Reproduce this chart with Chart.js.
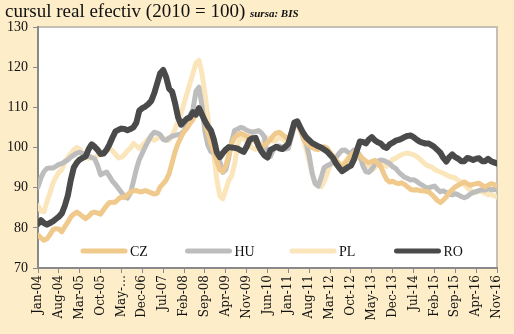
<!DOCTYPE html>
<html>
<head>
<meta charset="utf-8">
<script src="https://cdn.jsdelivr.net/npm/chart.js@4"></script>
<style>
  body { margin: 0; background: #fdedc8; }
  #wrap { position: relative; width: 514px; height: 334px; }
  #title { position: absolute; left: 5px; top: 0px; font: 19px 'Liberation Serif', serif; color: #111; white-space: nowrap; }
  #title span { font-size: 11px; font-style: italic; font-weight: bold; }
</style>
</head>
<body>
<div id="wrap">
  <div id="title">cursul real efectiv (2010 = 100) <span>sursa: BIS</span></div>
  <canvas id="chart" width="514" height="334"></canvas>
</div>
<script>
// etichete axa X (la fiecare 7 luni, ian-2004 .. nov-2016)
var tickLabels = ['Jan-04', 'Aug-04', 'Mar-05', 'Oct-05', 'May-…', 'Dec-06', 'Jul-07', 'Feb-08', 'Sep-08', 'Apr-09',
  'Nov-09', 'Jun-10', 'Jan-11', 'Aug-11', 'Mar-12', 'Oct-12', 'May-13', 'Dec-13', 'Jul-14', 'Feb-15',
  'Sep-15', 'Apr-16', 'Nov-16'];
var seriesNames = ['CZ', 'HU', 'PL', 'RO'];

// valori lunare, ian-2004 .. nov-2016
var cz = [78.2,77.5,76.9,77.3,78.3,79.5,79.8,79.7,79,80.3,
  81.4,82.7,83.4,83.9,83.4,82.8,82.3,82.9,83.7,83.9,
  83.7,83.4,84.5,85.5,86.3,86.4,86.4,87.2,87.7,87.5,
  88.2,88.9,89.2,89.3,89,89,89.3,89,88.7,88.4,
  88.6,90.2,91,91.9,93.5,96.2,99,101,102.6,104,
  104.8,106,107,108.5,109.5,108.5,106.5,103.5,101,99,
  96.5,94.5,94,95.5,98,101,102.5,103.2,103.5,103.2,
  102.8,102.6,102,101.4,100.8,100.2,100.5,101.2,102,103,
  103.6,103.8,103.2,102.6,102,103.5,105.5,105.8,104.5,102.6,
  101.2,100.5,100,99.6,99.5,99.8,100.2,99.8,98.8,97.8,
  96.8,95.8,95.2,96,97,98,98.8,98.4,98,97.2,
  96.6,96.2,96.5,96.8,96,95.2,93.5,92,91.4,91.6,
  91.2,91,91.2,90.8,90.2,89.6,89.4,89.5,89.3,89.2,
  89.1,89,88.4,87.6,86.8,86.3,86.9,87.7,88.8,89.5,
  90.2,90.6,91,91.4,91,90.6,90.8,91,91.1,90.6,
  90.2,90.6,91,90.8,90.4];

var hu = [90.2,92.5,94,94.8,94.9,94.9,95.3,95.8,96,96.5,
  96.9,97.6,98.1,98.6,98.8,98.5,98.2,97.9,97.5,97.2,
  95.5,93.2,93.6,93.9,92.8,91.6,90.8,89.8,88.8,87.8,
  87.4,88.6,91.5,94.6,97,98.6,100.2,101.6,103,103.8,
  103.6,103.2,102,101.8,102.4,102.8,103,103.2,103.4,104.2,
  106,108,109.5,114,115,110.5,104,100.5,99,98.6,
  98,96.5,93.8,94.5,97.5,101.5,104.3,104.6,105,104.8,
  104.3,104,103.8,104,104.2,103.6,102.6,97.5,97.8,99.5,
  100.2,100.4,100,99.6,99.8,102.5,105.5,106,104.6,102.5,
  101,98,93.5,91,90.4,92.5,95,95.5,95.8,96.5,
  97.5,98.5,99.3,99.4,98.8,98.6,99.4,99.2,98,95.5,
  94,93.8,94.6,95.8,96.6,96.9,96.8,96.4,96,95.2,
  94.8,93.9,93.2,92.6,92.3,91.9,92,91.6,91,90.6,
  90.1,89.9,90.2,90.4,89.6,89,89.2,88.8,88.4,88.2,
  88.5,88.2,87.8,87.5,87.8,88.4,88.8,89,89.3,89.5,
  89.4,89.7,89.5,89.6,89.4];

var pl = [85.5,84.2,84,86.5,88.6,91.1,92.6,93.8,94.5,96.2,
  97.6,98.5,99.4,100,99.6,98.4,97.8,97.3,97.4,97.6,
  98,98.3,98.6,99.4,99.8,99.2,98.3,97.4,97.6,98.2,
  99.2,99.8,101,100.4,99.8,100.6,101.2,102.2,102.2,101.8,
  102.3,102.6,102.4,102,101.8,103,104.6,106.5,108.5,111,
  113.5,116,118.5,121,121.7,118.5,113.5,107.5,102,98,
  92,88,87.2,89.5,91.8,93,96,100.8,102.4,102.2,
  101.6,100.6,99.8,99.5,100,101,102,102.4,102,101.6,
  101.8,102.5,102.2,101.5,101.8,103.5,106,106.2,104.5,102,
  99.5,96.5,93.5,91,90.4,90.2,91.5,93.5,95.5,96.6,
  96.8,96.2,95.8,96.4,97.4,97.9,98.2,97.8,97.2,96.8,
  96,95.2,94.4,95,96,96.2,95.6,95.3,96.2,97,
  97.4,97.8,98.2,98.5,98.6,98.4,98.2,97.8,97.2,96.5,
  95.8,95.4,95.2,94.6,94.2,93.9,93.6,93.2,92.8,92.6,
  92.4,91.8,91.4,90.8,90,89.4,88.8,88.9,89.2,89,
  88.6,88.2,88.4,88,87.7];

var ro = [81,81.9,81.2,80.8,81.2,81.6,82.2,82.8,83.6,85.5,
  88,91.9,95,96.2,97,97.4,97.8,99.6,100.8,100.2,
  99.4,98.4,98.5,99.4,100.8,102.5,104,104.4,104.7,104.6,
  104.3,104.6,105,106.2,109.2,109.8,110.2,110.8,111.6,113.5,
  116,118.5,119.3,117.5,114.6,113.9,111,107.5,105.7,106.5,
  107.2,107.5,108.8,108.2,109.8,108.2,106.6,105.3,104.3,102,
  98.8,97.6,98.6,99.5,100.1,100,99.9,99.7,99.3,98.9,
  100.2,101.9,102.3,102.4,100.4,99,98,97.5,99.4,99.8,
  100.2,99.8,99.6,100.2,101,103.5,106.2,106.5,105,103.6,
  102.5,101.8,101.1,100.7,100.3,100,99.5,99,98.2,97.4,
  96,95,94.1,94.6,95.1,95.5,97,99.3,101.5,101.4,
  101,102,102.6,101.8,101.3,101,100.2,99.9,100.8,101.2,
  101.7,101.9,102.2,102.6,102.9,103,102.6,102,101.5,101.2,
  101,101,100.6,100.1,99.4,98.7,97.4,96.5,97.6,98.3,
  97.6,97.2,96.6,96.6,97.4,97.2,96.9,97.2,97.3,96.6,
  96.6,97.2,96.6,96.3,96];

var colors = ['#f0c98c', '#bdbdbd', '#fbe6bb', '#4a4a4a'];
var drawOrder = [2, 3, 4, 1];

function toPoints(arr) {
  return arr.map(function (v, i) { return { x: i, y: v }; });
}

var allSeries = [cz, hu, pl, ro];
var datasets = allSeries.map(function (s, k) {
  return {
    label: seriesNames[k],
    data: toPoints(s),
    borderColor: colors[k],
    backgroundColor: colors[k],
    borderWidth: k === 3 ? 6 : 5,
    borderJoinStyle: 'round',
    borderCapStyle: 'round',
    pointRadius: 0,
    tension: 0,
    order: drawOrder[k]
  };
});

// fundal alb + chenar pentru zona graficului
var plotBg = {
  id: 'plotBg',
  beforeDraw: function (chart) {
    var a = chart.chartArea, ctx = chart.ctx;
    ctx.save();
    ctx.fillStyle = '#ffffff';
    ctx.fillRect(a.left, a.top, a.right - a.left, a.bottom - a.top);
    ctx.strokeStyle = '#c6c0b4';
    ctx.lineWidth = 2;
    ctx.beginPath();
    ctx.moveTo(a.left, a.top);
    ctx.lineTo(a.right, a.top);
    ctx.lineTo(a.right, a.bottom);
    ctx.stroke();
    ctx.restore();
  }
};

// legenda in interiorul zonei graficului, jos
var innerLegend = {
  id: 'innerLegend',
  afterDraw: function (chart) {
    var a = chart.chartArea, ctx = chart.ctx;
    var y = a.bottom - 17;
    ctx.save();
    ctx.font = '14px "Liberation Serif", serif';
    ctx.textBaseline = 'middle';
    chart.data.datasets.forEach(function (ds, k) {
      var x0 = a.left + 45 + k * 104.5;
      ctx.strokeStyle = ds.borderColor;
      ctx.lineWidth = 5;
      ctx.lineCap = 'round';
      ctx.beginPath();
      ctx.moveTo(x0, y);
      ctx.lineTo(x0 + 42, y);
      ctx.stroke();
      ctx.fillStyle = '#111';
      ctx.fillText(ds.label, x0 + 47, y + 1);
    });
    ctx.restore();
  }
};

var ctx = document.getElementById('chart').getContext('2d');
var chart = new Chart(ctx, {
  type: 'line',
  data: { datasets: datasets },
  options: {
    responsive: false,
    animation: false,
    layout: { padding: { top: 27, right: 17, bottom: 0, left: 0 } },
    plugins: {
      legend: { display: false },
      tooltip: { enabled: false }
    },
    scales: {
      x: {
        type: 'linear',
        min: 0,
        max: 154,
        afterFit: function (s) { s.height = 66; },
        ticks: {
          stepSize: 7,
          autoSkip: false,
          maxRotation: 90,
          minRotation: 90,
          padding: 2,
          color: '#111',
          font: { family: 'DejaVu Serif', size: 12 },
          callback: function (v) { return tickLabels[Math.round(v / 7)]; }
        },
        grid: { drawOnChartArea: false, tickLength: 5, color: '#8a8a8a' },
        border: { color: '#8a8a8a', width: 2 }
      },
      y: {
        min: 70,
        max: 130,
        afterFit: function (s) { s.width = 38; },
        ticks: {
          stepSize: 10,
          padding: 5,
          color: '#111',
          font: { family: 'Liberation Serif', size: 14 }
        },
        grid: { drawOnChartArea: false, tickLength: 5, color: '#8a8a8a' },
        border: { color: '#8a8a8a', width: 2 }
      }
    }
  },
  plugins: [plotBg, innerLegend]
});
</script>
</body>
</html>
